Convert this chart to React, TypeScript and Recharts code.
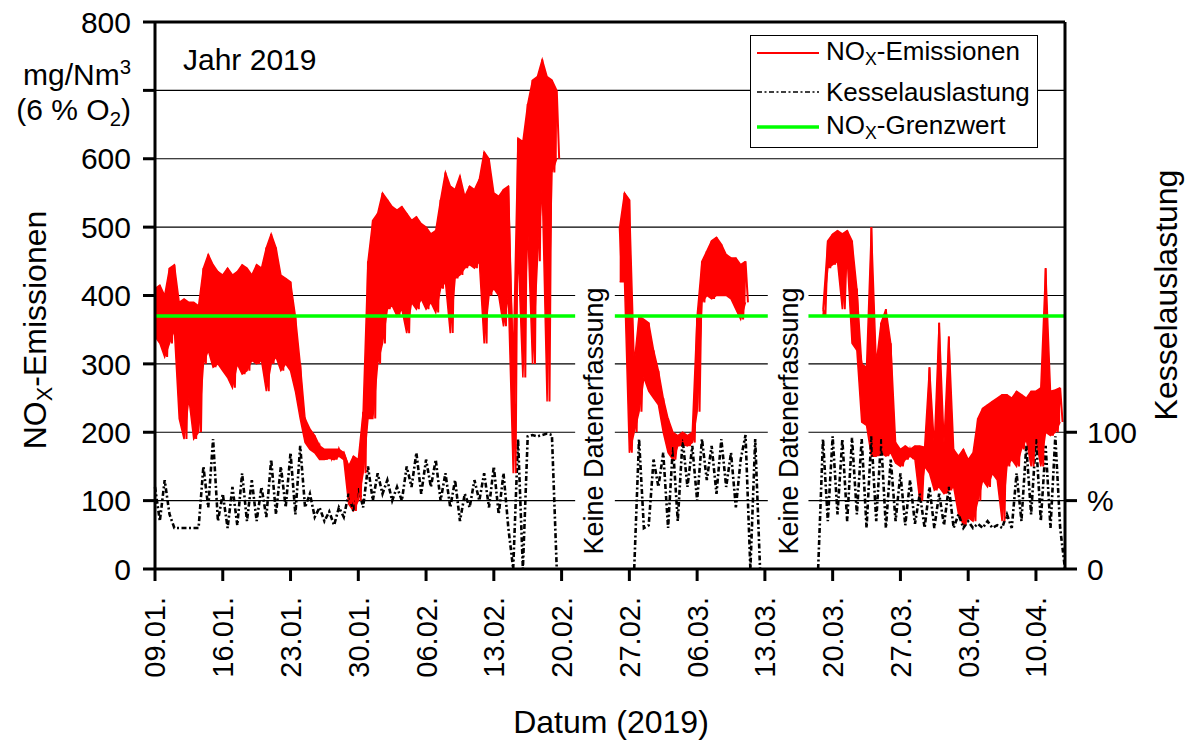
import React from "react";
import {
  Area,
  CartesianGrid,
  ComposedChart,
  Line,
  ReferenceArea,
  ReferenceLine,
  XAxis,
  YAxis,
} from "recharts";

const FONT = '"Liberation Sans", Arial, Helvetica, sans-serif';
const RED = "#ff0000";
const GREEN = "#00ff00";
const INK = "#000";

// x axis = days after 09.01.2019
const dateTicks = [0, 7, 14, 21, 28, 35, 42, 49, 56, 63, 70, 77, 84, 91];
const dateLabels = [
  "09.01.", "16.01.", "23.01.", "30.01.", "06.02.", "13.02.", "20.02.",
  "27.02.", "06.03.", "13.03.", "20.03.", "27.03.", "03.04.", "10.04.",
];
const noxTicks = [0, 100, 200, 300, 400, 500, 600, 700, 800];
const loadTicks = [0, 50, 100];
const loadTickLabels = ["0", "%", "100"];

const NOX_LIMIT = 370;
const limitSpans = [[0, 43.4], [47.5, 63.3], [67.5, 94]];
const noDataSpans = [[43.4, 47.5], [63.3, 67.5]];

// NOx, half-day samples: upper and lower edge of the noisy trace (mg/Nm3)
const noxStart = [0, 48, 69];
const noxHi1 = [
  410, 415, 400, 440, 445, 390, 395, 390, 390, 385, 440, 460, 445, 435, 430, 440,
  430, 435, 445, 440, 430, 445, 440, 470, 490, 470, 430, 425, 420, 370, 300, 220,
  205, 195, 180, 175, 175, 175, 175, 170, 150, 165, 160, 230, 450, 510, 520, 550,
  540, 530, 525, 530, 520, 510, 515, 505, 500, 490, 495, 540, 580, 560, 555, 575,
  545, 560, 555, 570, 610, 600, 550, 545, 555, 560, 300, 630, 625, 680, 715, 720,
  745, 720, 715, 700,
];
const noxLo1 = [
  340, 330, 310, 330, 350, 220, 190, 250, 190, 200, 300, 320, 295, 300, 290, 280,
  265, 300, 285, 290, 305, 300, 305, 260, 300, 310, 290, 300, 290, 260, 220, 185,
  175, 170, 160, 160, 162, 160, 165, 160, 95, 85, 100, 140, 220, 220, 300, 330,
  380, 385, 370, 380, 345, 390, 380, 395, 380, 390, 375, 410, 420, 345, 425, 430,
  440, 445, 440, 450, 330, 400, 410, 400, 355, 400, 140, 470, 280, 500, 300, 450,
  560, 245, 580, 600,
];
const noxHi2 = [
  500, 550, 540, 300, 370, 365, 360, 320, 290, 250, 220, 200, 195, 200, 195, 200,
  370, 450, 465, 480, 485, 475, 460, 455, 455, 445, 450,
];
const noxLo2 = [
  420, 420, 170, 200, 230, 280, 260, 250, 240, 200, 170, 160, 180, 182, 180, 185,
  230, 390, 400, 395, 400, 400, 400, 395, 380, 365, 390,
];
const noxHi3 = [
  380, 480, 490, 495, 490, 495, 480, 410, 300, 295, 500, 300, 360, 380, 330, 185,
  175, 180, 175, 180, 180, 178, 295, 180, 360, 185, 340, 175, 165, 175, 160, 170,
  220, 235, 240, 245, 250, 255, 255, 250, 260, 255, 250, 260, 260, 265, 440, 260,
  262, 265,
];
const noxLo3 = [
  370, 440, 445, 450, 380, 455, 330, 320, 215, 210, 165, 165, 170, 165, 170, 155,
  150, 160, 165, 160, 100, 150, 140, 115, 120, 110, 115, 120, 80, 65, 75, 70,
  100, 130, 120, 140, 130, 70, 150, 160, 150, 175, 190, 150, 190, 150, 200, 195,
  200, 215,
];

// Kesselauslastung, half-day samples (%)
const loadStart = [0, 49.5, 68.5];
const load1 = [
  60, 35, 65, 40, 30, 30, 30, 30, 30, 30, 75, 45, 95, 35, 55, 30,
  60, 32, 70, 35, 65, 35, 60, 38, 80, 40, 75, 45, 85, 40, 90, 45,
  55, 38, 45, 35, 42, 32, 45, 38, 55, 42, 60, 45, 75, 50, 70, 55,
  65, 50, 60, 50, 75, 60, 85, 55, 80, 60, 80, 50, 70, 45, 65, 35,
  55, 45, 65, 50, 70, 45, 75, 40, 70, 30, 0, 95, 0, 97, 98, 97,
  98, 99, 98, 0,
];
const load2 = [
  0, 95, 30, 32, 80, 60, 85, 30, 90, 35, 95, 60, 90, 50, 95, 65,
  90, 55, 95, 60, 85, 45, 80, 98, 0, 95, 0,
];
const load3 = [
  0, 95, 35, 97, 40, 95, 35, 96, 40, 95, 30, 97, 35, 95, 30, 80,
  35, 70, 32, 65, 33, 55, 30, 60, 30, 55, 32, 60, 30, 40, 30, 35,
  30, 33, 30, 35, 30, 32, 30, 40, 30, 70, 35, 90, 40, 95, 35, 90,
  30, 97, 30, 0,
];

type Pt = { t: number; v: number };
type RangePt = { t: number; range: [number, number] };

// upper/lower edge interleaved so the red trace reads as a noisy band
function zigzag(start: number, hi: number[], lo: number[]): Pt[] {
  const out: Pt[] = [];
  hi.forEach((h, i) => {
    out.push({ t: start + i * 0.5, v: h });
    out.push({ t: start + i * 0.5 + 0.25, v: lo[i] });
  });
  return out;
}

function envelope(start: number, hi: number[], lo: number[]): RangePt[] {
  return hi.map((h, i) => ({ t: start + i * 0.5, range: [lo[i], h] }));
}

function series(start: number, vals: number[]): Pt[] {
  return vals.map((v, i) => ({ t: start + i * 0.5, v }));
}

const noxPairs: [number, number[], number[]][] = [
  [noxStart[0], noxHi1, noxLo1],
  [noxStart[1], noxHi2, noxLo2],
  [noxStart[2], noxHi3, noxLo3],
];
const noxLines = noxPairs.map(([s, h, l]) => zigzag(s, h, l));
const noxBands = noxPairs.map(([s, h, l]) => envelope(s, h, l));
const loadSeries = [
  series(loadStart[0], load1),
  series(loadStart[1], load2),
  series(loadStart[2], load3),
];
const limitSeries = limitSpans.map(([a, b]) => [
  { t: a, v: NOX_LIMIT },
  { t: b, v: NOX_LIMIT },
]);

const DASH_DOT = "5 2.5 2 2.5";

function DateTick(props: any) {
  const { x, y, payload } = props;
  const label = dateLabels[dateTicks.indexOf(payload.value)] ?? "";
  return (
    <text
      x={x}
      y={y}
      transform={`rotate(-90, ${x}, ${y})`}
      textAnchor="end"
      dy="0.36em"
      fill={INK}
      fontSize={29}
      fontFamily={FONT}
    >
      {label}
    </text>
  );
}

const rotated = (cx: number, cy: number, size: number): React.CSSProperties => ({
  position: "absolute",
  left: cx,
  top: cy,
  transform: "translate(-50%, -50%) rotate(-90deg)",
  whiteSpace: "nowrap",
  fontSize: size,
  lineHeight: 1,
});

const sub: React.CSSProperties = { fontSize: "0.68em", verticalAlign: "-0.28em" };

export default function App() {
  return (
    <div
      style={{
        position: "absolute",
        left: 0,
        top: 0,
        width: 1187,
        height: 742,
        background: "#fff",
        fontFamily: FONT,
        color: INK,
        overflow: "hidden",
      }}
    >
      <ComposedChart width={1187} height={742} margin={{ top: 22, right: 62, bottom: 53, left: 95 }}>
        <CartesianGrid yAxisId="nox" vertical={false} stroke={INK} strokeWidth={1.2} />
        <XAxis
          dataKey="t"
          type="number"
          domain={[0, 94]}
          ticks={dateTicks}
          interval={0}
          height={120}
          tickSize={12}
          tickMargin={16}
          axisLine={{ stroke: INK, strokeWidth: 3 }}
          tickLine={{ stroke: INK, strokeWidth: 3 }}
          tick={<DateTick />}
        />
        <YAxis
          yAxisId="nox"
          domain={[0, 800]}
          ticks={noxTicks}
          interval={0}
          width={60}
          tickSize={12}
          tickMargin={12}
          axisLine={{ stroke: INK, strokeWidth: 3 }}
          tickLine={{ stroke: INK, strokeWidth: 3 }}
          tick={{ fill: INK, fontSize: 30, fontFamily: FONT }}
          tickFormatter={(v: number) => (v === 700 ? "" : String(v))}
        />
        <YAxis
          yAxisId="load"
          orientation="right"
          domain={[0, 400]}
          ticks={loadTicks}
          interval={0}
          width={60}
          tickSize={12}
          tickMargin={10}
          axisLine={{ stroke: INK, strokeWidth: 3 }}
          tickLine={{ stroke: INK, strokeWidth: 3 }}
          tick={{ fill: INK, fontSize: 30, fontFamily: FONT, textAnchor: "start" }}
          tickFormatter={(v: number) => loadTickLabels[loadTicks.indexOf(v)] ?? ""}
        />
        {noDataSpans.map(([a, b]) => (
          <ReferenceArea
            key={`gap-${a}`}
            yAxisId="nox"
            x1={a}
            x2={b}
            y1={0}
            y2={418}
            fill="#fff"
            fillOpacity={1}
            stroke="none"
          />
        ))}
        <ReferenceLine yAxisId="nox" y={800} stroke={INK} strokeWidth={3} />
        {loadSeries.map((d, i) => (
          <Line
            key={`load-${i}`}
            data={d}
            dataKey="v"
            yAxisId="load"
            type="linear"
            stroke={INK}
            strokeWidth={2.6}
            strokeDasharray={DASH_DOT}
            dot={false}
            activeDot={false}
            isAnimationActive={false}
          />
        ))}
        {noxBands.map((d, i) => (
          <Area
            key={`noxband-${i}`}
            data={d}
            dataKey="range"
            yAxisId="nox"
            type="linear"
            stroke={RED}
            strokeWidth={1.5}
            fill={RED}
            fillOpacity={1}
            dot={false}
            activeDot={false}
            isAnimationActive={false}
          />
        ))}
        {noxLines.map((d, i) => (
          <Line
            key={`nox-${i}`}
            data={d}
            dataKey="v"
            yAxisId="nox"
            type="linear"
            stroke={RED}
            strokeWidth={2}
            dot={false}
            activeDot={false}
            isAnimationActive={false}
          />
        ))}
        {limitSeries.map((d, i) => (
          <Line
            key={`limit-${i}`}
            data={d}
            dataKey="v"
            yAxisId="nox"
            type="linear"
            stroke={GREEN}
            strokeWidth={3.5}
            dot={false}
            activeDot={false}
            isAnimationActive={false}
          />
        ))}
      </ComposedChart>

      <div style={{ position: "absolute", left: 183, top: 45, fontSize: 30, lineHeight: 1 }}>
        Jahr 2019
      </div>

      <div style={{ position: "absolute", right: 1187 - 131, top: 57, fontSize: 30, lineHeight: 1, textAlign: "right", whiteSpace: "nowrap" }}>
        mg/Nm<span style={{ fontSize: "0.68em", verticalAlign: "0.55em" }}>3</span>
      </div>
      <div style={{ position: "absolute", right: 1187 - 131, top: 95, fontSize: 30, lineHeight: 1, textAlign: "right", whiteSpace: "nowrap" }}>
        (6 % O<span style={sub}>2</span>)
      </div>

      <div style={rotated(37, 330, 32)}>
        NO<span style={sub}>X</span>-Emissionen
      </div>
      <div style={rotated(1166, 295, 32)}>Kesselauslastung</div>
      <div style={{ position: "absolute", left: 611, top: 722, transform: "translate(-50%, -50%)", fontSize: 32, lineHeight: 1, whiteSpace: "nowrap" }}>
        Datum (2019)
      </div>

      <div style={rotated(594, 421, 27)}>Keine Datenerfassung</div>
      <div style={rotated(789, 421, 27)}>Keine Datenerfassung</div>

      <div
        style={{
          position: "absolute",
          left: 750,
          top: 35,
          width: 288,
          height: 113,
          boxSizing: "border-box",
          border: `1.5px solid ${INK}`,
          background: "#fff",
          fontSize: 26,
          lineHeight: 1,
        }}
      >
        {[
          { label: <>NO<span style={sub}>X</span>-Emissionen</>, stroke: RED, w: 2, dash: undefined, cy: 17 },
          { label: <>Kesselauslastung</>, stroke: INK, w: 1.6, dash: DASH_DOT, cy: 56 },
          { label: <>NO<span style={sub}>X</span>-Grenzwert</>, stroke: GREEN, w: 3.5, dash: undefined, cy: 91 },
        ].map((row, i) => (
          <div key={i} style={{ position: "absolute", left: 0, top: row.cy, width: "100%" }}>
            <svg width={62} height={6} style={{ position: "absolute", left: 6, top: -3 }}>
              <line x1={0} y1={3} x2={62} y2={3} stroke={row.stroke} strokeWidth={row.w} strokeDasharray={row.dash} />
            </svg>
            <div style={{ position: "absolute", left: 75, top: 0, transform: "translateY(-50%)", whiteSpace: "nowrap" }}>
              {row.label}
            </div>
          </div>
        ))}
      </div>
    </div>
  );
}
